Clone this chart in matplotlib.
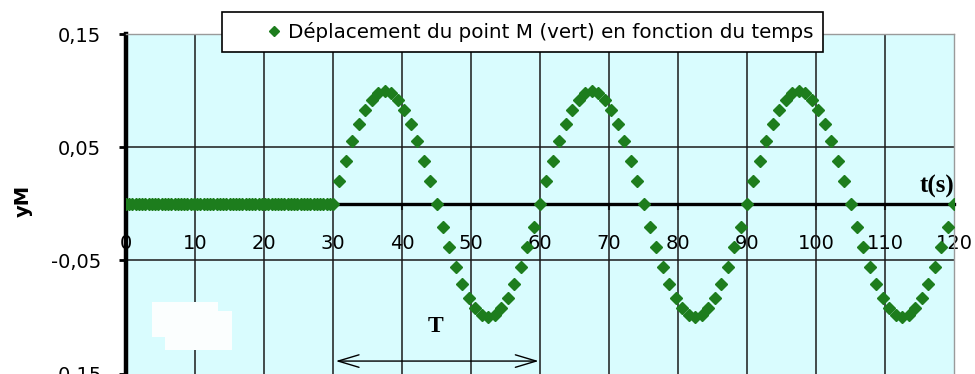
import numpy as np
import matplotlib.pyplot as plt
from matplotlib.patches import Rectangle

plt.rcParams['font.family'] = ['DejaVu Sans']

# point M stays at rest until t = 30 s
flat_t = np.linspace(0, 30, 64, endpoint=False)
flat_y = np.zeros(len(flat_t))

# then oscillates, 32 samples per period (T = 30 s)
wave_t = np.linspace(30, 120, 97)
wave_y = [
    0.000, 0.020, 0.038, 0.056, 0.071, 0.083, 0.092, 0.098, 0.100, 0.098, 0.092, 0.083, 0.071, 0.056, 0.038, 0.020,
    0.000, -0.020, -0.038, -0.056, -0.071, -0.083, -0.092, -0.098, -0.100, -0.098, -0.092, -0.083, -0.071, -0.056, -0.038, -0.020,
    0.000, 0.020, 0.038, 0.056, 0.071, 0.083, 0.092, 0.098, 0.100, 0.098, 0.092, 0.083, 0.071, 0.056, 0.038, 0.020,
    0.000, -0.020, -0.038, -0.056, -0.071, -0.083, -0.092, -0.098, -0.100, -0.098, -0.092, -0.083, -0.071, -0.056, -0.038, -0.020,
    0.000, 0.020, 0.038, 0.056, 0.071, 0.083, 0.092, 0.098, 0.100, 0.098, 0.092, 0.083, 0.071, 0.056, 0.038, 0.020,
    0.000, -0.020, -0.038, -0.056, -0.071, -0.083, -0.092, -0.098, -0.100, -0.098, -0.092, -0.083, -0.071, -0.056, -0.038, -0.020,
    0.000,
]

t = np.concatenate([flat_t, wave_t])
y = np.concatenate([flat_y, wave_y])

xticks = [0, 10, 20, 30, 40, 50, 60, 70, 80, 90, 100, 110, 120]
yticks = [-0.15, -0.05, 0.05, 0.15]
ylabels = ["-0,15", "-0,05", "0,05", "0,15"]

fig = plt.figure(figsize=(9.75, 3.74), dpi=100)
ax = fig.add_axes([126/975, 0.5/374, 828/975, 339.2/374])
ax.set_xlim(0, 120)
ax.set_ylim(-0.15, 0.15)
ax.set_facecolor('#d9fcfe')

for xv in xticks[1:-1]:
    ax.axvline(xv, color='#1a1a1a', lw=1.1, zorder=2)
for yv in [-0.05, 0.05]:
    ax.axhline(yv, color='#1a1a1a', lw=1.1, zorder=2)

for s in ['top', 'right']:
    ax.spines[s].set_color('#9a9a9a')
    ax.spines[s].set_linewidth(1)
ax.spines['bottom'].set_position(('data', 0))
ax.spines['bottom'].set_linewidth(2.4)
ax.spines['left'].set_linewidth(3.2)
ax.spines['bottom'].set_zorder(2.5)
ax.spines['left'].set_zorder(2.5)

ax.set_xticks(xticks)
ax.tick_params(axis='x', direction='out', length=4, width=1.5, labelbottom=False)
ax.set_yticks(yticks)
ax.set_yticklabels(ylabels)
ax.tick_params(axis='y', direction='out', length=5, width=2, labelsize=14, pad=13)

for xv in xticks:
    ax.text(xv, -0.035, str(xv), ha='center', va='center', fontsize=14, zorder=1.5)

# erased patch in the lower left
ax.add_patch(Rectangle((3.8, -0.118), 9.5, 0.031, color='#fbfefe', lw=0, zorder=2.2))
ax.add_patch(Rectangle((5.6, -0.129), 9.8, 0.034, color='#fbfefe', lw=0, zorder=2.2))

ax.plot(t, y, 'D', color='#1d7d1d', markersize=6, ls='none', zorder=4,
        label="Déplacement du point M (vert) en fonction du temps")

leg = ax.legend(loc='upper left', bbox_to_anchor=(222/975, 1 - 12/374), bbox_transform=fig.transFigure,
                fancybox=False, edgecolor='black', framealpha=1, fontsize=14.3, numpoints=1,
                handlelength=4.2, handletextpad=-1.4, borderpad=0.5, borderaxespad=0, markerscale=0.9)
leg.get_frame().set_linewidth(1.2)
leg.set_zorder(5)

ax.text(117.6, 0.015, 't(s)', family='Liberation Serif', fontweight='bold', fontsize=18,
        ha='center', va='center', zorder=5)
ax.text(44.8, -0.1085, 'T', family='Liberation Serif', fontweight='bold', fontsize=17,
        ha='center', va='center', zorder=5)
ax.annotate('', xy=(30.4, -0.139), xytext=(59.8, -0.139),
            arrowprops=dict(arrowstyle='<->,head_length=1.5,head_width=0.45', lw=1, color='black',
                            shrinkA=0, shrinkB=0),
            zorder=5)

fig.text(23/975, 1 - 201/374, 'yM', rotation=90, fontweight='bold', fontsize=14,
         ha='center', va='center')

plt.savefig("out.png", dpi=100)
